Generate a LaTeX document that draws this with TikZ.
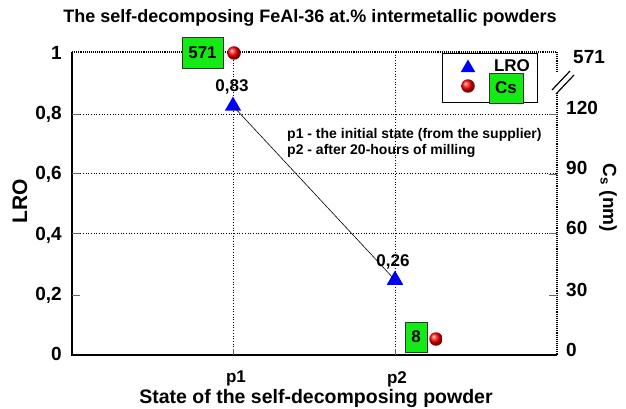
\documentclass[tikz,border=0pt]{standalone}
\usepackage{fontspec}
\setmainfont{Liberation Sans}
\usetikzlibrary{shapes.geometric}
\definecolor{boxgreen}{RGB}{20,235,20}
\tikzset{
  lbl/.style={font=\bfseries\fontsize{19}{21}\selectfont, inner sep=0pt},
  val/.style={font=\bfseries\fontsize{17}{19}\selectfont, inner sep=0pt},
  small/.style={font=\bfseries\fontsize{14}{16}\selectfont, inner sep=0pt},
  grid/.style={dotted, line width=0.7pt},
  tri/.style={regular polygon, regular polygon sides=3, fill=blue, draw=none, minimum size=19pt, inner sep=0pt},
  sph/.style={circle, shading=ball, ball color=red, minimum size=13.5pt, inner sep=0pt},
  gbox/.style={draw=black!80, line width=0.8pt, fill=boxgreen, inner sep=0pt, font=\bfseries\fontsize{17}{19}\selectfont},
  tickm/.style={gray!80!black, line width=0.8pt}
}
\begin{document}
\begin{tikzpicture}[x=1pt,y=-1pt]
\useasboundingbox (0,0) rectangle (626,409);
% title
\node[font=\bfseries\fontsize{18}{20}\selectfont] (title) at (310,18) {The self-decomposing FeAl-36 at.\% intermetallic powders};
% grid
\coordinate (gl8) at (72,114); \coordinate (gr8) at (557,114);
\coordinate (gl6) at (72,173); \coordinate (gr6) at (557,173);
\coordinate (gl4) at (72,233); \coordinate (gr4) at (557,233);
\draw[grid] (gl8) -- (gr8);
\draw[grid] (gl6) -- (gr6);
\draw[grid] (gl4) -- (gr4);
\coordinate (vp1t) at (233,52); \coordinate (vp1b) at (233,355);
\coordinate (vp2t) at (395,52); \coordinate (vp2b) at (395,355);
\draw[grid] (vp1t) -- (vp1b);
\draw[grid] (vp2t) -- (vp2b);
% frame
\coordinate (tl) at (72,52); \coordinate (bl) at (72,355);
\coordinate (br) at (557,355); \coordinate (tr) at (557,52);
\coordinate (rb1) at (557,73); \coordinate (rb2) at (557,93);
\draw[line width=1.1pt] (tl) -- (bl) -- (br);
\draw[line width=1.1pt, densely dotted] (tl) -- (tr) -- (rb1);
\draw[line width=1.1pt, densely dotted] (rb2) -- (br);
% axis break
\coordinate (ba1) at (552,90); \coordinate (ba2) at (570,71);
\coordinate (bb1) at (556,94); \coordinate (bb2) at (574,75);
\draw[line width=1.2pt] (ba1) -- (ba2);
\draw[line width=1.2pt] (bb1) -- (bb2);
% ticks
\foreach \yy in {114,173,233,295} {\draw[tickm] (72,\yy) -- (80,\yy);}
\foreach \yy in {114,174,233,295} {\draw[tickm] (549,\yy) -- (557,\yy);}
\draw[tickm] (233,355) -- (233,349);
\draw[tickm] (395,355) -- (395,349);
% left tick labels
\node[lbl, anchor=east] (l10) at (62,53) {1};
\node[lbl, anchor=east] (l08) at (62,114) {0,8};
\node[lbl, anchor=east] (l06) at (62,174) {0,6};
\node[lbl, anchor=east] (l04) at (62,235) {0,4};
\node[lbl, anchor=east] (l02) at (62,295) {0,2};
\node[lbl, anchor=east] (l00) at (62,354) {0};
% right tick labels
\node[lbl, anchor=west] (r571) at (573,57) {571};
\node[lbl, anchor=west] (r120) at (566,108) {120};
\node[lbl, anchor=west] (r90) at (566,168) {90};
\node[lbl, anchor=west] (r60) at (566,228) {60};
\node[lbl, anchor=west] (r30) at (566,290) {30};
\node[lbl, anchor=west] (r0) at (566,350) {0};
% x tick labels
\node[font=\bfseries\fontsize{17}{19}\selectfont, inner sep=0pt, anchor=base] (xp1) at (236,382) {p1};
\node[font=\bfseries\fontsize{17}{19}\selectfont, inner sep=0pt, anchor=base] (xp2) at (397,383) {p2};
% axis titles
\node[font=\bfseries\fontsize{21}{23}\selectfont, rotate=90] (ylab) at (20,201) {LRO};
\node[font=\bfseries\fontsize{19}{21}\selectfont, rotate=-90] (y2lab) at (608,198) {C\textsubscript{s} (nm)};
\node[font=\bfseries\fontsize{19.5}{22}\selectfont, inner sep=0pt, anchor=base] (xlab) at (316,403) {State of the self-decomposing powder};
% data
\node[tri] (t1) at (233,106) {};
\node[tri] (t2) at (395,280) {};
\draw[line width=0.6pt] (t1.center) -- (t2.center);
\node[val] (v1) at (232,87) {0,83};
\node[val] (v2) at (393,262) {0,26};
\node[sph] (s1) at (234,53) {};
\node[sph] (s2) at (436,339) {};
\node[gbox, minimum width=41pt, minimum height=31pt] (b571) at (202.5,52.5) {571};
\node[gbox, minimum width=22pt, minimum height=30pt] (b8) at (416,337) {8};
% annotation
\node[small, anchor=west] (ann1) at (287,135) {p1 - the initial state (from the supplier)};
\node[small, anchor=west] (ann2) at (287,151) {p2 - after 20-hours of milling};
% legend
\node[draw=black, line width=1pt, fill=white, minimum width=95pt, minimum height=49pt, inner sep=0pt] (leg) at (489.5,78.5) {};
\node[tri, minimum size=17pt] (lt) at (468,68) {};
\node[sph] (ls) at (468,86) {};
\node[val] (ltx) at (512,66) {LRO};
\node[gbox, minimum width=34pt, minimum height=30pt] (lcs) at (506,88) {Cs};
\end{tikzpicture}
\end{document}
